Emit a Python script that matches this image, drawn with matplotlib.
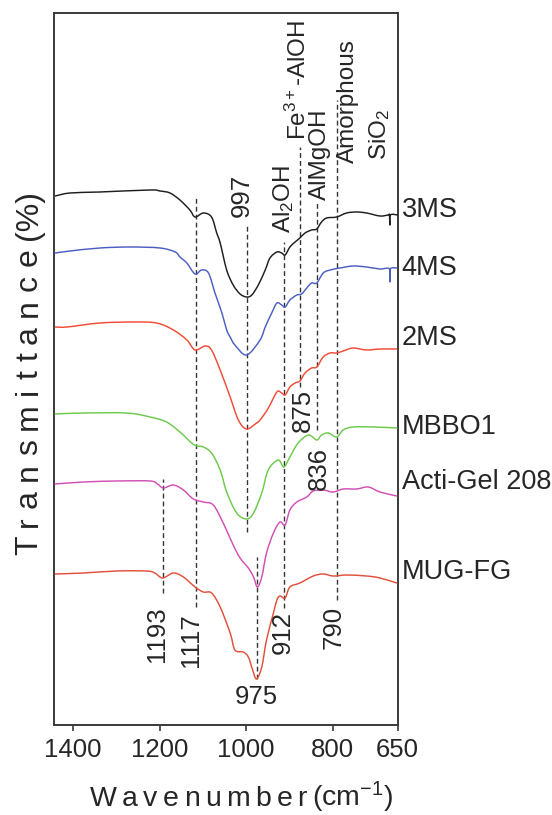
import numpy as np
import matplotlib
matplotlib.use("Agg")
import matplotlib.pyplot as plt
from matplotlib.path import Path
from matplotlib.patches import PathPatch

plt.rcParams['font.family'] = ['Liberation Sans', 'DejaVu Sans']
plt.rcParams['mathtext.fontset'] = 'custom'
plt.rcParams['mathtext.rm'] = 'Liberation Sans'
plt.rcParams['mathtext.it'] = 'Liberation Sans:italic'
plt.rcParams['mathtext.bf'] = 'Liberation Sans:bold'
plt.rcParams['mathtext.default'] = 'regular'

# ---- FTIR spectra: wavenumber (cm-1) and vertically offset transmittance (a.u.)
wn_3ms = [1441, 1407, 1338, 1222, 1199, 1176, 1153, 1130, 1118, 1099, 1080, 1068,
          1060, 1045, 1030, 1014, 999, 987, 972, 956, 945, 929, 918, 910, 899, 887,
          876, 864, 849, 837, 826, 814, 791, 768, 745, 722, 691, 672, 669, 668, 667, 650]
t_3ms = [52.9, 53.2, 53.3, 53.5, 53.4, 53.2, 52.5, 51.5, 50.8, 51.2, 50.8, 49.2,
         48.2, 45.5, 44.0, 43.1, 42.8, 43.0, 44.0, 45.5, 46.7, 47.3, 47.2, 47.0, 47.8, 48.3,
         48.7, 49.2, 49.5, 49.6, 50.3, 50.7, 50.8, 51.2, 51.3, 51.2, 50.9, 51.0, 51.0, 50.0, 51.0, 51.0]

wn_4ms = [1441, 1407, 1338, 1268, 1199, 1164, 1153, 1137, 1118, 1103, 1087, 1072,
          1056, 1045, 1037, 1026, 999, 968, 956, 941, 929, 918, 910, 899, 883, 872,
          860, 849, 837, 822, 806, 783, 753, 722, 691, 669, 668, 667, 652]
t_4ms = [47.2, 47.4, 47.7, 47.8, 47.7, 47.3, 46.8, 46.2, 45.1, 45.5, 45.2, 43.2,
         41.2, 39.5, 38.8, 38.0, 37.0, 38.5, 39.8, 41.2, 42.2, 42.0, 41.8, 42.5, 43.0, 43.1,
         43.7, 44.2, 44.2, 45.2, 45.5, 45.7, 45.9, 45.8, 45.6, 45.6, 44.3, 45.6, 45.7]

wn_2ms = [1441, 1414, 1338, 1261, 1207, 1168, 1137, 1118, 1095, 1080, 1060, 1037,
          1018, 999, 976, 968, 950, 929, 918, 910, 899, 887, 876, 864, 849, 837,
          822, 806, 791, 776, 753, 722, 691, 652]
t_2ms = [39.8, 39.8, 40.2, 40.3, 40.2, 39.5, 38.5, 37.5, 37.9, 37.5, 35.5, 32.8,
         30.5, 29.6, 30.2, 30.5, 31.6, 33.3, 33.2, 33.0, 33.8, 34.2, 34.4, 35.2, 35.7, 35.8,
         36.8, 37.2, 37.2, 37.4, 37.7, 37.5, 37.6, 37.6]

wn_mbbo1 = [1441, 1376, 1276, 1222, 1184, 1153, 1126, 1114, 1099, 1080, 1060, 1045,
            1022, 999, 983, 964, 949, 926, 913, 899, 880, 856, 837, 826, 810, 791,
            776, 753, 706, 652]
t_mbbo1 = [31.1, 31.2, 31.2, 30.8, 30.3, 29.3, 28.2, 27.9, 27.8, 27.2, 25.5, 23.3,
           21.2, 20.6, 21.2, 23.2, 25.5, 26.5, 25.8, 26.8, 28.2, 29.0, 28.5, 29.0, 29.2, 28.8,
           29.5, 29.8, 29.8, 29.7]

wn_actigel = [1441, 1376, 1299, 1222, 1205, 1191, 1168, 1145, 1122, 1099, 1076, 1053,
              1030, 1014, 995, 983, 974, 964, 953, 937, 922, 910, 899, 883, 860, 845,
              822, 799, 776, 745, 718, 691, 652]
t_actigel = [24.1, 24.3, 24.4, 24.4, 24.1, 23.7, 24.0, 23.5, 22.6, 22.3, 22.0, 20.2,
             18.0, 16.7, 15.7, 14.8, 13.8, 14.8, 17.2, 19.2, 20.3, 20.0, 21.5, 22.3, 22.8, 23.4,
             23.5, 23.3, 23.6, 23.6, 23.8, 23.3, 22.9]

wn_mugfg = [1441, 1376, 1299, 1230, 1211, 1193, 1168, 1145, 1118, 1099, 1080, 1060,
            1037, 1026, 1007, 995, 985, 976, 964, 953, 937, 929, 922, 910, 899, 876,
            845, 822, 799, 768, 722, 691, 652]
t_mugfg = [15.1, 15.2, 15.4, 15.4, 15.2, 14.7, 15.2, 14.8, 13.8, 13.3, 13.2, 11.8,
           9.2, 7.5, 7.3, 6.8, 5.5, 4.6, 5.8, 8.5, 11.2, 12.5, 12.9, 12.7, 13.8, 14.2,
           14.9, 15.1, 14.9, 15.0, 14.9, 14.7, 14.2]

sample_names = ["3MS", "4MS", "2MS", "MBBO1", "Acti-Gel 208", "MUG-FG"]
sample_colors = ["#1e1e1e", "#4b5fc2", "#f24b36", "#6dc94c", "#d24fb6", "#e2503c"]

# assigned band positions (cm-1)
peak_wn = [1193, 1117, 997, 975, 912, 875, 836, 790]
peak_labels = ["1193", "1117", "997", "975", "912", "875", "836", "790"]
band_names = [r"Al$_2$OH", r"Fe$^{3+}$-AlOH", "AlMgOH", "Amorphous", r"SiO$_2$"]

x_ticks = [1400, 1200, 1000, 800, 650]

TEXT = "#262626"
W_PX, H_PX = 552, 815


def smooth_path(x, y):
    """Catmull-Rom curve through the given points, as cubic Bezier segments."""
    pts = np.column_stack([x, y]).astype(float)
    n = len(pts)
    verts = [pts[0]]
    codes = [Path.MOVETO]
    for i in range(n - 1):
        p0 = pts[i - 1] if i > 0 else pts[i]
        p1 = pts[i]
        p2 = pts[i + 1]
        p3 = pts[i + 2] if i + 2 < n else pts[i + 1]
        verts += [p1 + (p2 - p0) / 6.0, p2 - (p3 - p1) / 6.0, p2]
        codes += [Path.CURVE4] * 3
    return Path(verts, codes)


def tracked_text(fig, pieces, center_px, baseline_px, fontsize, length_px, vertical=False):
    """Letter-spaced label: pieces spread evenly over length_px."""
    r = fig.canvas.get_renderer()
    widths = []
    for p in pieces:
        t = fig.text(0, 0, p, fontsize=fontsize)
        widths.append(t.get_window_extent(r).width)
        t.remove()
    gap = (length_px - sum(widths)) / (len(pieces) - 1)
    pos = center_px - length_px / 2.0
    for p, w in zip(pieces, widths):
        mid = pos + w / 2.0
        if vertical:
            xy = (baseline_px / W_PX, mid / H_PX)
            rot = 90
        else:
            xy = (mid / W_PX, baseline_px / H_PX)
            rot = 0
        fig.text(xy[0], xy[1], p, fontsize=fontsize, color=TEXT, rotation=rot,
                 rotation_mode='anchor', ha='center', va='baseline')
        pos += w + gap


fig = plt.figure(figsize=(W_PX / 100, H_PX / 100), dpi=100)
ax = fig.add_axes([53.5 / W_PX, 1 - 725 / H_PX, (397.7 - 53.5) / W_PX, (725 - 13) / H_PX])
ax.set_xlim(1445, 650)
ax.set_ylim(0, 71.2)

series = [(wn_3ms, t_3ms), (wn_4ms, t_4ms), (wn_2ms, t_2ms),
          (wn_mbbo1, t_mbbo1), (wn_actigel, t_actigel), (wn_mugfg, t_mugfg)]
for (wn, tr), col in zip(series, sample_colors):
    ax.add_patch(PathPatch(smooth_path(wn, tr), facecolor='none', edgecolor=col,
                           lw=1.05, capstyle='round', joinstyle='round', zorder=3))

# sample names at the right edge
name_y = [51.5, 45.7, 38.7, 29.8, 24.3, 15.3]
for name, yv in zip(sample_names, name_y):
    ax.text(641, yv, name, fontsize=19.5, color=TEXT, ha='left', va='center', clip_on=False)

# dashed markers for the assigned bands
peak_span = {1193: (13.2, 24.6), 1117: (11.8, 52.9), 997: (19.3, 50.0), 975: (4.6, 16.8),
             912: (11.7, 48.3), 875: (33.8, 57.8), 836: (29.5, 52.2), 790: (12.5, 62.5)}
label_pos = {1193: (1205, 9.1, 90), 1117: (1127, 8.5, 90), 997: (1010, 53.0, 90),
             975: (977, 2.8, 0), 912: (915, 9.2, 90), 875: (869, 31.5, 90),
             836: (833, 25.7, 90), 790: (797, 9.8, 90)}
for w, lab in zip(peak_wn, peak_labels):
    y0, y1 = peak_span[w]
    ax.plot([w, w], [y0, y1], color="#333333", lw=1.0, ls=(0, (3.5, 2.2)), zorder=2)
    lx, ly, rot = label_pos[w]
    ax.text(lx, ly, lab, fontsize=18.5, color=TEXT, rotation=rot, ha='center', va='center')

band_pos = [(913, 49.2), (879, 58.5), (830, 52.5), (765, 56.2), (692, 56.5)]
for name, (bx, by) in zip(band_names, band_pos):
    ax.text(bx, by, name, fontsize=17.5, color=TEXT, rotation=90, ha='center', va='bottom')

# axes styling
for sp in ax.spines.values():
    sp.set_color("#3a3a3a")
    sp.set_linewidth(1.4)
ax.set_yticks([])
ax.set_xticks(x_ticks)
ax.set_xticklabels([str(t) for t in x_ticks])
ax.tick_params(axis='x', direction='out', length=4.5, width=1.2, color="#3a3a3a",
               labelsize=18.5, labelcolor=TEXT, pad=5)

# letter-spaced axis titles
tracked_text(fig, list("Wavenumber") + [r"(cm$^{-1}$)"], center_px=241.5,
             baseline_px=815 - 806.5, fontsize=20.5, length_px=303)
tracked_text(fig, list("Transmittance") + ["(%)"], center_px=815 - 372.5,
             baseline_px=37, fontsize=23, length_px=365, vertical=True)

fig.savefig("out.png", dpi=100)
